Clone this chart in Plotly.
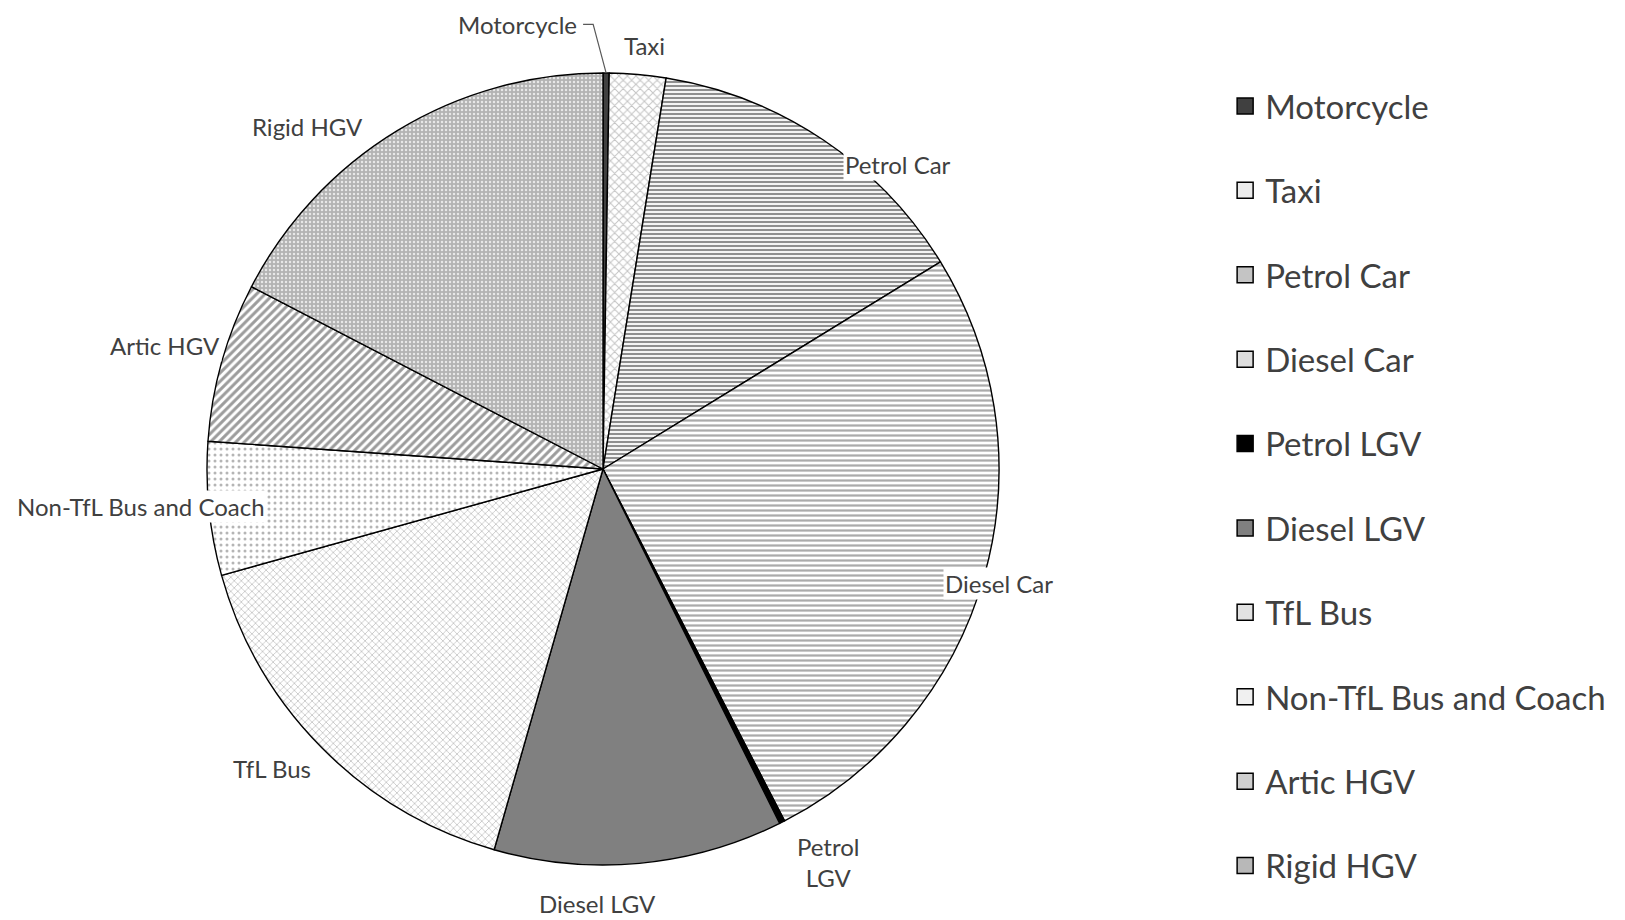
import math
import plotly.graph_objects as go

# ---------------- data ----------------
categories = ["Motorcycle", "Taxi", "Petrol Car", "Diesel Car", "Petrol LGV",
              "Diesel LGV", "TfL Bus", "Non-TfL Bus and Coach", "Artic HGV", "Rigid HGV"]
shares = [0.25, 2.3, 13.7, 26.2, 0.22, 11.8, 16.25, 5.45, 6.5, 17.4]
slice_labels = ["Motorcycle", "Taxi", "Petrol Car", "Diesel Car", "Petrol<br>LGV",
                "Diesel LGV", "TfL Bus", "Non-TfL Bus and Coach", "Artic HGV", "Rigid HGV"]

# ---------------- style ----------------
W, H = 1625, 920
CX, CY, R = 595, 461, 396          # pie centre / radius in px
FONT = "Lato"
TXT = "#404040"
LABEL_SIZE = 24
LEGEND_SIZE = 33

bg_colors = ["#404040", "#ffffff", "#ffffff", "#ffffff", "#000000",
             "#808080", "#ffffff", "#ffffff", "#ffffff", "#b3b3b3"]
fg_colors = ["#404040", "#c4c4c4", "#8f8f8f", "#ababab", "#000000",
             "#808080", "#b8b8b8", "#b5b5b5", "#9c9c9c", "#e8e8e8"]
shapes_pat = ["", "x", "-", "-", "", "", "x", ".", "/", "."]
pat_size = [6, 6, 4, 5, 6, 6, 5, 6, 6, 4]
pat_solid = [0.3, 0.3, 0.55, 0.45, 0.3, 0.3, 0.25, 0.2, 0.5, 0.3]
legend_swatch = ["#404040", "#ececec", "#c4c4c4", "#dedede", "#000000",
                 "#808080", "#e2e2e2", "#f0f0f0", "#cfcfcf", "#b8b8b8"]
# label placement: radius factor, angular shift (deg)
label_rf = [1.124, 1.074, 1.07, 1.04, 1.145, 1.097, 1.127, 1.171, 1.15, 1.142]
label_dt = [0, 0.5, 10.3, 0.5, -3.0, 6.0, 2.75, 1.2, 0.0, -9.5]

fig = go.Figure()

dom_x = [(CX - R) / W, (CX + R) / W]
dom_y = [1 - (CY + R) / H, 1 - (CY - R) / H]

fig.add_trace(go.Pie(
    labels=categories, values=shares, sort=False, direction="clockwise",
    rotation=0, textinfo="none", hoverinfo="label+percent", showlegend=False,
    domain=dict(x=dom_x, y=dom_y),
    marker=dict(colors=bg_colors, line=dict(color="#000000", width=1.4),
                pattern=dict(shape=shapes_pat, fgcolor=fg_colors, bgcolor=bg_colors,
                             size=pat_size, solidity=pat_solid, fillmode="replace")),
))

# legend entries
for i, c in enumerate(categories):
    fig.add_trace(go.Scatter(
        x=[None], y=[None], mode="markers", name=c, legendgroup=c,
        marker=dict(symbol="square", size=16, color=legend_swatch[i],
                    line=dict(color="#000000", width=1.5)),
        showlegend=True, hoverinfo="skip"))

# labels
total = sum(shares)
cum = 0.0
annotations = []
shapes = []
for i, v in enumerate(shares):
    a0 = cum / total * 360
    cum += v
    a1 = cum / total * 360
    mid = (a0 + a1) / 2
    ang = math.radians(mid + label_dt[i])
    rr = R * label_rf[i]
    px = CX + rr * math.sin(ang)
    py = CY - rr * math.cos(ang)
    if i == 0:
        # Motorcycle: label left of a leader line
        ang_m = math.radians(-2.56)
        ax_ = CX + R * 1.124 * math.sin(ang_m)
        ay_ = CY - R * 1.124 * math.cos(ang_m)
        ex = CX + R * math.sin(math.radians(mid))
        ey = CY - R * math.cos(math.radians(mid))
        annotations.append(dict(x=(ax_ - 4) / W, y=1 - ay_ / H, xref="paper", yref="paper",
                                text=slice_labels[i], showarrow=False, xanchor="right",
                                yanchor="middle",
                                font=dict(family=FONT, size=LABEL_SIZE, color=TXT)))
        path = "M {:.4f},{:.4f} L {:.4f},{:.4f} L {:.4f},{:.4f}".format(
            ax_ / W, 1 - ay_ / H, (ax_ + 10) / W, 1 - ay_ / H, ex / W, 1 - ey / H)
        shapes.append(dict(type="path", xref="paper", yref="paper", path=path,
                           line=dict(color="#595959", width=1.2)))
        continue
    annotations.append(dict(x=px / W, y=1 - py / H, xref="paper", yref="paper",
                            text=slice_labels[i], showarrow=False, xanchor="center",
                            yanchor="middle", bgcolor="#ffffff", borderpad=1,
                            font=dict(family=FONT, size=LABEL_SIZE, color=TXT)))

fig.update_layout(
    width=W, height=H, margin=dict(l=0, r=0, t=0, b=0),
    paper_bgcolor="#ffffff", plot_bgcolor="#ffffff",
    xaxis=dict(visible=False), yaxis=dict(visible=False),
    annotations=annotations, shapes=shapes,
    legend=dict(x=0.749, xanchor="left", y=1 - 70 / H, yanchor="top",
                tracegroupgap=38.5, traceorder="grouped",
                font=dict(family=FONT, size=LEGEND_SIZE, color=TXT),
                bgcolor="rgba(0,0,0,0)"),
    font=dict(family=FONT, color=TXT),
)

fig.write_html("out.html")
